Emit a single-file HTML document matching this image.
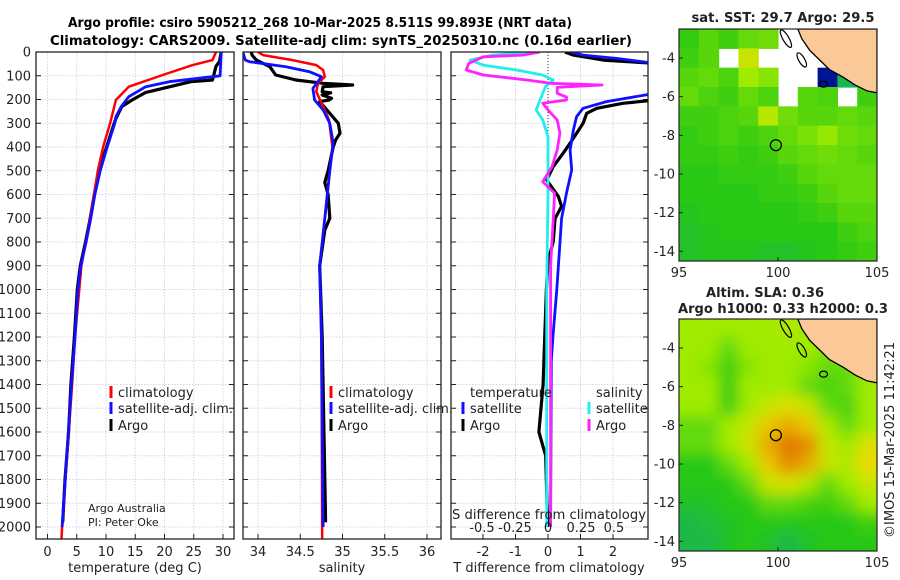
<!DOCTYPE html>
<html><head><meta charset="utf-8"><title>Argo profile</title>
<style>
html,body{margin:0;padding:0;background:#fff;}
svg{display:block;font-family:"DejaVu Sans","Liberation Sans",sans-serif;}
</style></head>
<body>
<svg id="fig" width="900" height="580" viewBox="0 0 900 580" xmlns="http://www.w3.org/2000/svg">
<defs>
<clipPath id="c1"><rect x="36" y="52" width="198" height="487"/></clipPath>
<clipPath id="c2"><rect x="243" y="52" width="198" height="487"/></clipPath>
<clipPath id="c3"><rect x="451" y="52" width="197" height="487"/></clipPath>
<clipPath id="cm1"><rect x="679" y="29" width="198" height="232"/></clipPath>
<clipPath id="cm2"><rect x="679" y="319" width="198" height="232"/></clipPath>
<filter id="blur" filterUnits="userSpaceOnUse" x="640" y="280" width="280" height="310"><feGaussianBlur stdDeviation="7"/></filter>
</defs>
<text x="68" y="27" font-size="13" font-weight="bold" textLength="504" lengthAdjust="spacingAndGlyphs">Argo profile: csiro 5905212_268 10-Mar-2025 8.511S 99.893E (NRT data)</text>
<text x="50" y="45" font-size="13" font-weight="bold" textLength="582" lengthAdjust="spacingAndGlyphs">Climatology: CARS2009. Satellite-adj clim: synTS_20250310.nc (0.16d earlier)</text>
<g id="root"></g>
</svg>
<script>
// ---------- profile data ----------
const tempClimD = [0,34,55,97,146,202,300,400,500,700,900,1200,1400,2000,2050];
const tempClimV = [28.8,28.2,24.8,19.7,13.9,11.7,10.7,9.5,8.6,7.3,5.8,4.7,4.2,2.5,2.4];
const tempSatD = [0,100,104,125,146,188,230,272,300,400,500,600,700,800,900,1000,1200,1400,2000];
const tempSatV = [29.7,29.5,28.2,20.8,16.8,13.9,12.6,11.7,11.5,10.2,9.0,8.1,7.4,6.6,5.7,5.2,4.7,4.1,2.5];
const tempArgoD = [0,40,60,90,118,125,150,170,200,230,280,300,400,500,550,600,700,800,900,1000,1200,1400,1600,1800,1980];
const tempArgoV = [29.7,29.4,28.8,28.5,28.2,24.5,20.3,16.8,14.6,12.7,11.7,11.4,10.1,8.8,8.4,8.0,7.3,6.5,5.6,5.1,4.6,4.0,3.6,3.0,2.6];

const salClimD = [0,13,34,55,76,104,132,167,230,286,400,500,700,900,1200,2050];
const salClimV = [34.0,34.06,34.41,34.69,34.77,34.79,34.71,34.69,34.77,34.84,34.88,34.85,34.79,34.73,34.75,34.76];
const salSatD = [0,34,41,62,83,104,125,153,202,244,300,384,500,700,900,1200,2000];
const salSatV = [33.82,33.85,33.9,34.33,34.61,34.75,34.71,34.65,34.67,34.77,34.85,34.89,34.85,34.79,34.73,34.75,34.77];
const salArgoD = [0,13,34,62,97,118,132,139,146,167,172,181,195,202,209,230,258,300,342,370,400,500,550,600,700,750,800,900,1200,1980];
const salArgoV = [33.92,33.93,33.98,34.14,34.21,34.45,34.77,35.12,34.77,34.76,34.86,34.76,34.87,34.84,34.73,34.78,34.85,34.95,34.97,34.92,34.89,34.83,34.79,34.83,34.85,34.79,34.77,34.73,34.76,34.8];

const dTsatD = [0,13,27,48,174,209,237,272,328,413,497,594,700,1000,1200,1300,2000];
const dTsatV = [0.73,1.08,2.1,3.3,3.3,1.8,1.08,0.88,0.78,0.68,0.73,0.57,0.42,0.27,0.15,0.1,0.08];
const dTargoD = [0,13,34,48,202,216,237,258,300,342,384,427,483,539,609,650,700,800,880,1000,1400,1600,1700,1900,2000];
const dTargoV = [0.52,0.78,1.7,3.3,3.3,2.3,1.5,1.19,1.08,0.88,0.68,0.46,0.16,-0.04,0.32,0.42,0.22,0.16,0,-0.05,-0.15,-0.28,-0.07,-0.03,0];
const dSargoD = [0,13,20,48,76,97,118,132,139,149,174,190,202,216,244,286,342,413,483,546,594,700,900,2000];
const dSargoV = [-0.06,-0.19,-0.49,-0.6,-0.62,-0.49,-0.16,0.02,0.41,0.07,0.07,0.14,0.14,-0.04,0.0,0.07,0.09,0.07,0.03,-0.04,0.05,0.04,0.02,0.02];
const dSsatD = [0,13,34,55,76,97,118,146,202,244,286,356,600,1000,2000];
const dSsatV = [-0.14,-0.42,-0.59,-0.49,-0.24,-0.04,0.04,-0.02,-0.06,-0.09,-0.04,0,0,-0.01,-0.01];

const depthTicks = [0,100,200,300,400,500,600,700,800,900,1000,1100,1200,1300,1400,1500,1600,1700,1800,1900,2000];
const tempTicks = [0,5,10,15,20,25,30];
const salTicks = [34,34.5,35,35.5,36];
const salTickLabels = ["34","34.5","35","35.5","36"];
const dTTicks = [-2,-1,0,1,2];
const dSTicks = [-0.5,-0.25,0,0.25,0.5];
const dSTickLabels = ["-0.5","-0.25","0","0.25","0.5"];

// ---------- map data (1 degree cells, rows from -3 to -14, cols 95.5..104.5) ----------
const sstGrid = [
 [1.1,1.4,1.2,1.5,1.6,null,null,null,null,null],
 [1.2,1.4,null,2.5,null,null,null,null,null,null],
 [1.4,1.5,1.3,2,1.8,null,null,-1,0.4,1],
 [1.5,1.3,1.2,1.5,1.3,null,1.4,1.3,null,1.2],
 [1.2,1.2,1.3,1.4,2.3,1.6,1.4,1.4,1.5,1.4],
 [1.1,1.2,1.3,1.2,1.3,1.5,1.7,1.9,1.6,1.5],
 [1.1,1.1,1.2,1.1,1.2,1.4,1.5,1.6,1.5,1.4],
 [1,1,1.1,1.1,1.1,1.2,1.4,1.5,1.5,1.5],
 [1,1,1,1,1.1,1.1,1.2,1.4,1.5,1.5],
 [0.9,1,1,1,1,1,1.1,1.2,1.4,1.4],
 [0.8,0.9,1,1,1,1,1,1,1.2,1.3],
 [0.8,0.9,0.9,0.9,0.8,0.8,0.9,1,1.1,1.2]
];
const slaGrid = [
 [2,2,2,2,2,2.2,2,2,2,2],
 [2,2,1.5,2,2,2,2,1.8,1.8,2],
 [2,1.8,1.2,1.8,2,2,1.8,1.5,1.5,2],
 [2,2,1.2,2,2,2,1.5,1.3,1.5,2],
 [2,2,1.2,2,2.5,2.8,2.5,1.5,1.3,2],
 [1.5,1.5,2,2.5,3.2,3.5,3.2,2.2,1.5,2],
 [1.5,1.5,2,2.6,3.5,4,3.8,2.5,2,2.8],
 [1,1,1.5,2,3.2,3.8,3.5,2.5,2.2,3],
 [1,1,1,1.5,2.5,2.8,2.2,1.5,2,2.5],
 [0.8,0.8,1,1,1.5,1.5,1.3,1.2,1.5,2],
 [0.5,0.6,0.8,1,1,1,1,1,1,1.2],
 [0.5,0.5,0.8,1,0.8,0.5,0.8,1,1,1]
];
const landLon = [101.0,101.2,101.6,102.0,102.6,103.3,103.9,104.5,105.0,105.0];
const landLat = [-2.5,-3.0,-3.6,-4.0,-4.6,-5.0,-5.4,-5.7,-5.8,-2.5];
const argoLon = 99.893, argoLat = -8.511;
const mapLatTicks = [-4,-6,-8,-10,-12,-14];
const mapLonTicks = [95,100,105];

// ---------- helpers ----------
const NS = "http://www.w3.org/2000/svg";
const root = document.getElementById('root');
function mk(tag, attrs, parent){
  const e = document.createElementNS(NS, tag);
  for (const k in attrs) e.setAttribute(k, attrs[k]);
  (parent||root).appendChild(e);
  return e;
}
const PT = 52, PB = 539;
const yD = d => PT + d*0.2375;
const xT = t => 47.5 + t*5.85;
const xS = s => 258 + (s-34)*84.5;
const xdT = v => 548 + v*32.5;
const xdS = v => 548 + v*132;

function panel(name){
  const g = mk('g', {});
  
  
  return g;
}
function hgrid(g, x0, x1){
  depthTicks.forEach(d => {
    const l = mk('line', {x1:x0, x2:x1, y1:yD(d), y2:yD(d), stroke:'#d2d4ec', 'stroke-width':1, 'stroke-dasharray':'1.5,1.5'}, g);
    
    
    const t1 = mk('line', {x1:x0, x2:x0+5, y1:yD(d), y2:yD(d), stroke:'#222', 'stroke-width':1}, g);
    
    
    const t2 = mk('line', {x1:x1-5, x2:x1, y1:yD(d), y2:yD(d), stroke:'#222', 'stroke-width':1}, g);
    
    
  });
}
function vgrid(g, xs){
  xs.forEach(x => {
    const l = mk('line', {x1:x, x2:x, y1:PT, y2:PB, stroke:'#d2d4ec', 'stroke-width':1, 'stroke-dasharray':'1.5,1.5'}, g);
    
    
    const t = mk('line', {x1:x, x2:x, y1:PB-5, y2:PB, stroke:'#222', 'stroke-width':1}, g);
    
    
  });
}
function frame(g, x0, x1){
  const r = mk('rect', {x:x0, y:PT, width:x1-x0, height:PB-PT, fill:'none', stroke:'#222', 'stroke-width':1.3}, g);
  
  
}
function line(g, D, V, fx, color, w, clip, name){
  const pts = D.map((d,i) => fx(V[i]).toFixed(1)+','+yD(d).toFixed(1)).join(' ');
  const p = mk('polyline', {points:pts, fill:'none', stroke:color, 'stroke-width':w, 'stroke-linejoin':'round', 'clip-path':'url(#'+clip+')'}, g);
  
  
}
function txt(g, x, y, s, size, anchor, name, extra){
  const t = mk('text', Object.assign({x:x, y:y, 'font-size':size, 'text-anchor':anchor||'start', fill:'#222'}, extra||{}), g);
  t.textContent = s;
  
  
  return t;
}
function legMark(g, x, y, color, name){
  const l = mk('line', {x1:x, x2:x, y1:y-6, y2:y+6, stroke:color, 'stroke-width':3}, g);
  
  
}

// ---------- panel 1: temperature ----------
const g1 = panel('temperature-panel');
hgrid(g1, 36, 234);
vgrid(g1, tempTicks.map(xT));
line(g1, tempArgoD, tempArgoV, xT, '#000', 3.2, 'c1', 'temp-argo-line');
line(g1, tempClimD, tempClimV, xT, '#f00', 2.5, 'c1', 'temp-climatology-line');
line(g1, tempSatD, tempSatV, xT, '#1010ff', 2.8, 'c1', 'temp-satellite-line');
frame(g1, 36, 234);
depthTicks.forEach(d => txt(g1, 31, yD(d)+4.5, String(d), 13, 'end', 'depth-tick-label'));
tempTicks.forEach(t => txt(g1, xT(t), 556, String(t), 13, 'middle', 'temp-tick-label'));
txt(g1, 135, 572, 'temperature (deg C)', 13, 'middle', 'x-axis-title-temperature');
legMark(g1, 111, 392, '#f00', 'legend-climatology-mark');
txt(g1, 118, 397, 'climatology', 13, 'start', 'legend-climatology');
legMark(g1, 111, 408, '#1010ff', 'legend-satellite-mark');
txt(g1, 118, 413, 'satellite-adj. clim.', 13, 'start', 'legend-satellite', {textLength:115, lengthAdjust:'spacingAndGlyphs'});
legMark(g1, 111, 425, '#000', 'legend-argo-mark');
txt(g1, 118, 430, 'Argo', 13, 'start', 'legend-argo');
txt(g1, 88, 512, 'Argo Australia', 11, 'start', 'credit-argo-australia');
txt(g1, 88, 526, 'PI: Peter Oke', 11, 'start', 'credit-pi');

// ---------- panel 2: salinity ----------
const g2 = panel('salinity-panel');
hgrid(g2, 243, 441);
vgrid(g2, salTicks.map(xS));
line(g2, salArgoD, salArgoV, xS, '#000', 3.2, 'c2', 'sal-argo-line');
line(g2, salClimD, salClimV, xS, '#f00', 2.5, 'c2', 'sal-climatology-line');
line(g2, salSatD, salSatV, xS, '#1010ff', 2.8, 'c2', 'sal-satellite-line');
frame(g2, 243, 441);
salTicks.forEach((s,i) => txt(g2, xS(s), 556, salTickLabels[i], 13, 'middle', 'sal-tick-label'));
txt(g2, 342, 572, 'salinity', 13, 'middle', 'x-axis-title-salinity');
legMark(g2, 331, 392, '#f00', 'legend-climatology-mark');
txt(g2, 338, 397, 'climatology', 13, 'start', 'legend-climatology');
legMark(g2, 331, 408, '#1010ff', 'legend-satellite-mark');
txt(g2, 338, 413, 'satellite-adj. clim.', 13, 'start', 'legend-satellite', {textLength:115, lengthAdjust:'spacingAndGlyphs'});
legMark(g2, 331, 425, '#000', 'legend-argo-mark');
txt(g2, 338, 430, 'Argo', 13, 'start', 'legend-argo');

// ---------- panel 3: differences ----------
const g3 = panel('difference-panel');
hgrid(g3, 451, 648);
vgrid(g3, dTTicks.map(xdT));
const zl = mk('line', {x1:548, x2:548, y1:PT, y2:yD(420), stroke:'#333', 'stroke-width':1, 'stroke-dasharray':'1,2'}, g3);


line(g3, dTargoD, dTargoV, xdT, '#000', 3.2, 'c3', 'dT-argo-line');
line(g3, dTsatD, dTsatV, xdT, '#1010ff', 2.8, 'c3', 'dT-satellite-line');
line(g3, dSsatD, dSsatV, xdS, '#22eeee', 2.8, 'c3', 'dS-satellite-line');
line(g3, dSargoD, dSargoV, xdS, '#ff22ff', 2.8, 'c3', 'dS-argo-line');
frame(g3, 451, 648);
dTTicks.forEach(v => txt(g3, xdT(v), 556, String(v), 13, 'middle', 'dT-tick-label'));
txt(g3, 549, 572, 'T difference from climatology', 13, 'middle', 'x-axis-title-dT');
txt(g3, 549, 519, 'S difference from climatology', 13, 'middle', 'dS-axis-title', {textLength:194, lengthAdjust:'spacingAndGlyphs'});
dSTicks.forEach((v,i) => txt(g3, xdS(v), 532, dSTickLabels[i], 13, 'middle', 'dS-tick-label'));
txt(g3, 470, 397, 'temperature', 13, 'start', 'legend-temperature-heading');
legMark(g3, 463, 408, '#1010ff', 'legend-dT-satellite-mark');
txt(g3, 470, 413, 'satellite', 13, 'start', 'legend-dT-satellite');
legMark(g3, 463, 425, '#000', 'legend-dT-argo-mark');
txt(g3, 470, 430, 'Argo', 13, 'start', 'legend-dT-argo');
txt(g3, 596, 397, 'salinity', 13, 'start', 'legend-salinity-heading');
legMark(g3, 589, 408, '#22eeee', 'legend-dS-satellite-mark');
txt(g3, 596, 413, 'satellite', 13, 'start', 'legend-dS-satellite');
legMark(g3, 589, 425, '#ff22ff', 'legend-dS-argo-mark');
txt(g3, 596, 430, 'Argo', 13, 'start', 'legend-dS-argo');

// ---------- maps ----------
const MX0 = 679, MX1 = 877;
const mx = lon => MX0 + (lon-95)*(MX1-MX0)/10;
function colorOf(v){
  const stops = [[-1,[0,20,150]],[0,[20,170,120]],[1,[40,200,20]],[2,[160,235,0]],[3,[235,220,0]],[4,[225,120,0]]];
  if (v <= stops[0][0]) return 'rgb('+stops[0][1].join(',')+')';
  for (let i=1;i<stops.length;i++){
    if (v <= stops[i][0]){
      const a = stops[i-1], b = stops[i], f = (v-a[0])/(b[0]-a[0]);
      const c = a[1].map((q,k)=>Math.round(q+(b[1][k]-q)*f));
      return 'rgb('+c.join(',')+')';
    }
  }
  return 'rgb('+stops[stops.length-1][1].join(',')+')';
}
function drawMap(top, grid, clip, blur, name){
  const bottom = top + 232;
  const my = lat => top + (-2.5-lat)*(232/12);
  const g = mk('g', {});
  
  
  const cg = mk('g', {'clip-path':'url(#'+clip+')'}, g);
  const cells = mk('g', blur ? {filter:'url(#blur)'} : {}, cg);
  const nR = grid.length, nC = grid[0].length;
  const pad = blur ? 20 : 0;
  grid.forEach((row, r) => row.forEach((v, c) => {
    if (v === null) return;
    const lat0 = -2.5 - r, lon0 = 95 + c;
    let x = mx(lon0), y = my(lat0);
    let w = mx(lon0+1)-mx(lon0)+0.6, h = my(lat0-1)-my(lat0)+0.6;
    if (c === 0) { x -= pad; w += pad; }
    if (c === nC-1) { w += pad; }
    if (r === 0) { y -= pad; h += pad; }
    if (r === nR-1) { h += pad; }
    const rc = mk('rect', {x:x, y:y, width:w, height:h, fill:colorOf(v)}, cells);
    
    
  }));
  const land = mk('polygon', {points:landLon.map((l,i)=>mx(l).toFixed(1)+','+my(landLat[i]).toFixed(1)).join(' '), fill:'#fbc998', stroke:'#000', 'stroke-width':1.3}, cg);
  
  
  const isl1 = mk('ellipse', {cx:mx(100.4), cy:my(-3.0), rx:3, ry:10, transform:'rotate(-30 '+mx(100.4)+' '+my(-3.0)+')', fill:'none', stroke:'#000', 'stroke-width':1.2}, cg);
  
  
  const isl2 = mk('ellipse', {cx:mx(101.2), cy:my(-4.1), rx:3, ry:8, transform:'rotate(-30 '+mx(101.2)+' '+my(-4.1)+')', fill:'none', stroke:'#000', 'stroke-width':1.2}, cg);
  
  
  const isl3 = mk('ellipse', {cx:mx(102.3), cy:my(-5.35), rx:4, ry:3, fill:'none', stroke:'#000', 'stroke-width':1.2}, cg);
  
  
  const circ = mk('circle', {cx:mx(argoLon), cy:my(argoLat), r:5.5, fill:'none', stroke:'#000', 'stroke-width':1.3}, g);
  
  
  const fr = mk('rect', {x:MX0, y:top, width:MX1-MX0, height:232, fill:'none', stroke:'#222', 'stroke-width':1.2}, g);
  
  
  mapLatTicks.forEach(l => {
    txt(g, 675, my(l)+4.5, String(l), 13, 'end', 'lat-tick-label');
    const t = mk('line', {x1:MX0, x2:MX0+4, y1:my(l), y2:my(l), stroke:'#222'}, g);
    
    
  });
  mapLonTicks.forEach(l => {
    txt(g, mx(l), bottom+16, String(l), 13, 'middle', 'lon-tick-label');
    const t = mk('line', {x1:mx(l), x2:mx(l), y1:bottom-4, y2:bottom, stroke:'#222'}, g);
    
    
  });
  return g;
}
const m1 = drawMap(29, sstGrid, 'cm1', false, 'sst-map');
txt(m1, 783, 22, 'sat. SST: 29.7 Argo: 29.5', 13, 'middle', 'sst-map-title', {'font-weight':'bold', textLength:183, lengthAdjust:'spacingAndGlyphs'});
const m2 = drawMap(319, slaGrid, 'cm2', true, 'sla-map');
txt(m2, 765, 297, 'Altim. SLA: 0.36', 13, 'middle', 'sla-map-title', {'font-weight':'bold', textLength:118, lengthAdjust:'spacingAndGlyphs'});
txt(m2, 783, 313, 'Argo h1000: 0.33 h2000: 0.3', 13, 'middle', 'sla-map-subtitle', {'font-weight':'bold', textLength:210, lengthAdjust:'spacingAndGlyphs'});
txt(root, 0, 0, '©IMOS 15-Mar-2025 11:42:21', 13, 'middle', 'imos-timestamp', {transform:'translate(894,440) rotate(-90)', textLength:196, lengthAdjust:'spacingAndGlyphs'});
</script>
</body></html>
